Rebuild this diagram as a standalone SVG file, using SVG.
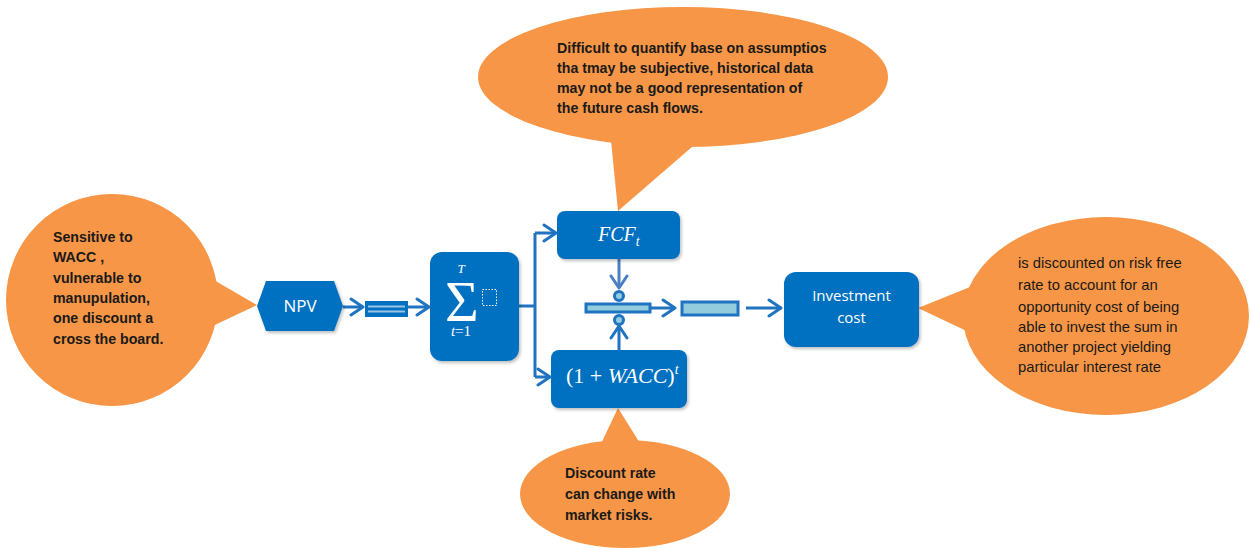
<svg xmlns="http://www.w3.org/2000/svg" width="1250" height="548" viewBox="0 0 1250 548">
<defs>
<style>
.call{fill:#F79646;}
.ct{font-family:"Liberation Sans",Arial,sans-serif;font-size:14.2px;font-weight:bold;fill:#1a1a1a;}
.cr{font-family:"Liberation Sans",Arial,sans-serif;font-size:14.8px;fill:#1a1a1a;}
.box{fill:#0070C0;filter:url(#sh);}
.wt{font-family:"Open Sans","Liberation Sans",sans-serif;font-size:15px;fill:#ffffff;}
.npv{font-family:"Open Sans","Liberation Sans",sans-serif;font-size:17px;fill:#ffffff;}
.m{font-family:"Liberation Serif","DejaVu Serif",serif;fill:#ffffff;}
.ln{fill:none;stroke:#1F73C0;stroke-width:3;stroke-linejoin:round;}
.bar{fill:#93CDDD;stroke:#1F73C0;stroke-width:3;}
</style>
<filter id="sh" x="-10%" y="-10%" width="130%" height="130%">
<feDropShadow dx="1.5" dy="2" stdDeviation="1.5" flood-color="#000" flood-opacity="0.25"/>
</filter>
<marker id="ar" markerUnits="userSpaceOnUse" markerWidth="20" markerHeight="20" viewBox="0 0 20 20" refX="16" refY="10" orient="auto">
<path d="M4,2 L16,10 L4,18" fill="none" stroke="#1F73C0" stroke-width="3" stroke-linejoin="round" stroke-linecap="round"/>
</marker>
<marker id="ar2" markerUnits="userSpaceOnUse" markerWidth="20" markerHeight="20" viewBox="0 0 20 20" refX="16" refY="10" orient="auto">
<path d="M4,2 L16,10 L4,18" fill="none" stroke="#4A7FC1" stroke-width="3" stroke-linejoin="round" stroke-linecap="round"/>
</marker>
</defs>
<rect width="1250" height="548" fill="#ffffff"/>

<g id="callout-npv">
<circle class="call" cx="112" cy="300" r="106"/>
<path class="call" d="M200,272 L257,305 L200,332 Z"/>
<text class="ct" x="53" y="242">Sensitive to</text>
<text class="ct" x="53" y="262">WACC ,</text>
<text class="ct" x="53" y="283">vulnerable to</text>
<text class="ct" x="53" y="303">manupulation,</text>
<text class="ct" x="53" y="323">one discount a</text>
<text class="ct" x="53" y="344">cross the board.</text>
</g>

<g id="callout-fcf">
<ellipse class="call" cx="683" cy="77" rx="205" ry="70"/>
<path class="call" d="M610,130 L618,211 L700,140 Z"/>
<text class="ct" x="557" y="53">Difficult to quantify base on assumptios</text>
<text class="ct" x="557" y="73">tha tmay be subjective, historical data</text>
<text class="ct" x="557" y="93">may not be a good representation of</text>
<text class="ct" x="557" y="113">the future cash flows.</text>
</g>

<g id="callout-wacc">
<ellipse class="call" cx="625" cy="494" rx="105" ry="54"/>
<path class="call" d="M598,450 L618,408 L643,448 Z"/>
<text class="ct" x="565" y="478">Discount rate</text>
<text class="ct" x="565" y="499">can change with</text>
<text class="ct" x="565" y="520">market risks.</text>
</g>

<g id="callout-invest">
<ellipse class="call" cx="1106" cy="316" rx="143" ry="99"/>
<path class="call" d="M975,285 L918,308 L975,335 Z"/>
<text class="cr" x="1018" y="268">is discounted on risk free</text>
<text class="cr" x="1018" y="290">rate to account for an</text>
<text class="cr" x="1018" y="312">opportunity cost of being</text>
<text class="cr" x="1018" y="332">able to invest the sum in</text>
<text class="cr" x="1018" y="352">another project yielding</text>
<text class="cr" x="1018" y="372">particular interest rate</text>
</g>

<g id="connectors">
<line class="ln" x1="343" y1="307" x2="363" y2="307" marker-end="url(#ar)"/>
<line class="ln" x1="408" y1="307" x2="429" y2="307" marker-end="url(#ar)"/>
<polyline class="ln" points="519,306 535,306"/>
<line class="ln" x1="535" y1="233" x2="535" y2="377"/>
<line class="ln" x1="535" y1="233" x2="556" y2="233" marker-end="url(#ar)"/>
<line class="ln" x1="535" y1="377" x2="550" y2="377" marker-end="url(#ar)"/>
<line x1="619" y1="259" x2="619" y2="288" stroke="#4A7FC1" stroke-width="3" marker-end="url(#ar2)"/>
<line class="ln" x1="619" y1="350" x2="619" y2="326" marker-end="url(#ar)"/>
<line class="ln" x1="650" y1="308" x2="675" y2="308" marker-end="url(#ar)"/>
<line class="ln" x1="746" y1="308" x2="781" y2="308" marker-end="url(#ar)"/>
</g>

<g id="npv">
<path class="box" d="M266,281 L334,281 L343,306 L334,331 L266,331 L257,306 Z"/>
<text class="npv" x="300" y="312" text-anchor="middle">NPV</text>
</g>

<g id="equals">
<rect x="365" y="301" width="43" height="16" fill="#0070C0"/>
<line x1="368" y1="306.5" x2="405" y2="306.5" stroke="#9DC3E6" stroke-width="1.8"/>
<line x1="368" y1="311.5" x2="405" y2="311.5" stroke="#9DC3E6" stroke-width="1.8"/>
</g>

<g id="sum">
<rect class="box" x="430" y="252" width="89" height="109" rx="12"/>
<text class="m" text-anchor="middle"><tspan x="461" y="273" font-size="13" font-style="italic">T</tspan><tspan x="462" y="321" font-size="58">Σ</tspan><tspan x="461" y="336" font-size="15"><tspan font-style="italic">t</tspan>=1</tspan></text>
<rect x="482.5" y="289.5" width="14" height="16" fill="none" stroke="#ffffff" stroke-width="1" stroke-dasharray="1.5,1.5"/>
</g>

<g id="fcf">
<rect class="box" x="557" y="211" width="123" height="48" rx="8"/>
<text class="m" x="598" y="241" font-size="20" font-style="italic">FCF<tspan font-size="14" dy="5">t</tspan></text>
</g>

<g id="wacc">
<rect class="box" x="551" y="350" width="136" height="58" rx="8"/>
<text class="m" x="566" y="383" font-size="22">(1 + <tspan font-style="italic">WACC</tspan>)<tspan font-size="14" font-style="italic" dy="-9">t</tspan></text>
</g>

<g id="division">
<rect class="bar" x="586" y="304" width="64" height="8"/>
<circle cx="619" cy="296" r="4.5" fill="#93CDDD" stroke="#1F73C0" stroke-width="3"/>
<circle cx="619" cy="320" r="4.5" fill="#93CDDD" stroke="#1F73C0" stroke-width="3"/>
</g>

<g id="result">
<rect class="bar" x="682" y="302" width="56" height="13"/>
</g>

<g id="investment">
<rect class="box" x="784" y="272" width="135" height="75" rx="12"/>
<text class="wt" x="851.5" y="301" text-anchor="middle">Investment</text>
<text class="wt" x="851.5" y="323" text-anchor="middle">cost</text>
</g>
</svg>
